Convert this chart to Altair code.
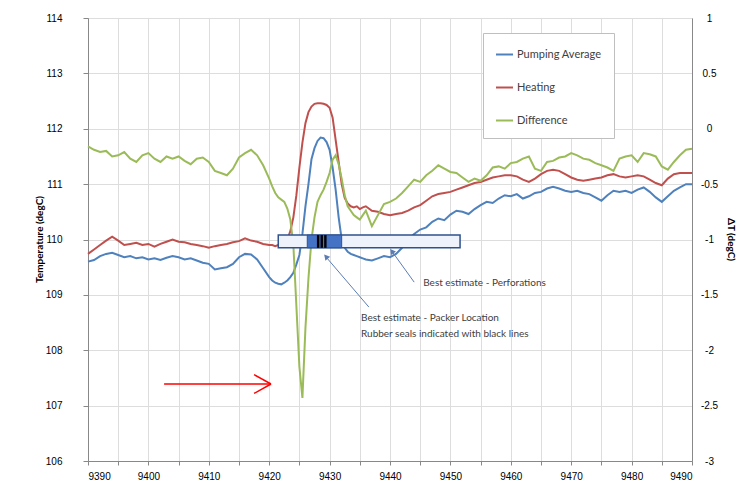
import altair as alt
import pandas as pd

# ---------------- data ----------------
depth = [9390, 9391, 9392, 9393, 9394, 9395, 9396, 9397, 9398, 9399,
         9400, 9401, 9402, 9403, 9404, 9405, 9406, 9407, 9408, 9409,
         9410, 9411, 9412, 9413, 9414, 9415, 9416, 9417, 9418, 9419,
         9420, 9420.5, 9421, 9421.5, 9422, 9422.5, 9423, 9423.5, 9424, 9424.5,
         9425, 9425.5, 9426, 9426.5, 9427, 9427.5, 9428, 9428.5, 9429, 9429.5,
         9430, 9430.5, 9431, 9431.5, 9432, 9432.5, 9433, 9433.5, 9434, 9434.5,
         9435, 9435.5, 9436, 9437, 9438, 9439, 9440, 9441, 9442, 9443,
         9444, 9445, 9446, 9447, 9448, 9449, 9450, 9451, 9452, 9453,
         9454, 9455, 9456, 9457, 9458, 9459, 9460, 9461, 9462, 9463,
         9464, 9465, 9466, 9467, 9468, 9469, 9470, 9471, 9472, 9473,
         9474, 9475, 9476, 9477, 9478, 9479, 9480, 9481, 9482, 9483,
         9484, 9485, 9486, 9487, 9488, 9489, 9490]

pumping_average = [109.60, 109.63, 109.70, 109.74, 109.76, 109.72, 109.68, 109.70, 109.66, 109.68,
                   109.64, 109.66, 109.63, 109.67, 109.70, 109.68, 109.64, 109.66, 109.62, 109.58,
                   109.56, 109.46, 109.48, 109.50, 109.56, 109.68, 109.74, 109.73, 109.64, 109.48,
                   109.32, 109.26, 109.22, 109.20, 109.19, 109.22, 109.26, 109.32, 109.40, 109.55,
                   109.72, 110.10, 110.60, 111.00, 111.45, 111.65, 111.78, 111.84, 111.83, 111.76,
                   111.62, 111.30, 110.90, 110.40, 110.00, 109.85, 109.78, 109.74, 109.72, 109.70,
                   109.68, 109.66, 109.64, 109.62, 109.66, 109.70, 109.68, 109.74, 109.85, 110.00,
                   110.10, 110.18, 110.22, 110.32, 110.38, 110.35, 110.45, 110.52, 110.50, 110.46,
                   110.55, 110.62, 110.68, 110.66, 110.74, 110.80, 110.78, 110.82, 110.74, 110.78,
                   110.84, 110.86, 110.92, 110.95, 110.92, 110.88, 110.86, 110.88, 110.84, 110.82,
                   110.76, 110.70, 110.80, 110.88, 110.86, 110.88, 110.84, 110.90, 110.94, 110.86,
                   110.76, 110.68, 110.78, 110.88, 110.94, 111.00, 111.00]

heating = [109.74, 109.82, 109.90, 109.98, 110.05, 109.98, 109.90, 109.92, 109.94, 109.90,
           109.92, 109.87, 109.92, 109.96, 110.00, 109.96, 109.95, 109.92, 109.90, 109.88,
           109.85, 109.88, 109.90, 109.92, 109.95, 109.97, 110.02, 109.98, 109.96, 109.92,
           109.90, 109.90, 109.88, 109.90, 109.92, 109.95, 110.00, 110.15, 110.40, 110.80,
           111.30, 111.75, 112.10, 112.30, 112.40, 112.45, 112.46, 112.46, 112.45, 112.43,
           112.38, 112.20, 111.80, 111.40, 111.00, 110.75, 110.65, 110.60, 110.58, 110.60,
           110.55, 110.58, 110.60, 110.52, 110.50, 110.46, 110.44, 110.46, 110.48, 110.52,
           110.58, 110.62, 110.70, 110.78, 110.82, 110.84, 110.86, 110.90, 110.94, 110.98,
           111.02, 111.04, 111.08, 111.12, 111.14, 111.16, 111.16, 111.14, 111.08, 111.04,
           111.10, 111.18, 111.24, 111.26, 111.24, 111.18, 111.12, 111.08, 111.06, 111.08,
           111.10, 111.12, 111.16, 111.18, 111.14, 111.12, 111.14, 111.16, 111.14, 111.08,
           111.02, 110.98, 111.10, 111.18, 111.20, 111.20, 111.20]

difference = [-0.16, -0.19, -0.21, -0.20, -0.25, -0.24, -0.21, -0.27, -0.30, -0.24,
              -0.22, -0.27, -0.30, -0.25, -0.27, -0.25, -0.29, -0.32, -0.27, -0.26,
              -0.30, -0.38, -0.40, -0.42, -0.36, -0.26, -0.22, -0.19, -0.24, -0.33,
              -0.45, -0.52, -0.58, -0.62, -0.64, -0.66, -0.72, -0.82, -1.05, -1.60,
              -2.15, -2.43, -1.80, -1.35, -1.00, -0.80, -0.66, -0.60, -0.55, -0.48,
              -0.40, -0.28, -0.24, -0.32, -0.45, -0.60, -0.70, -0.74, -0.78, -0.80,
              -0.82, -0.78, -0.74, -0.88, -0.78, -0.68, -0.66, -0.63, -0.58, -0.52,
              -0.46, -0.48, -0.42, -0.38, -0.33, -0.36, -0.39, -0.40, -0.44, -0.48,
              -0.45, -0.47, -0.42, -0.35, -0.34, -0.36, -0.31, -0.30, -0.27, -0.25,
              -0.36, -0.38, -0.30, -0.29, -0.26, -0.25, -0.22, -0.24, -0.27, -0.28,
              -0.31, -0.33, -0.35, -0.38, -0.27, -0.25, -0.24, -0.30, -0.22, -0.23,
              -0.25, -0.34, -0.37, -0.30, -0.24, -0.19, -0.18]

series_names = ["Pumping Average", "Heating", "Difference"]
series_colors = ["#4f81bd", "#c0504d", "#9bbb59"]

x_ticks = list(range(9390, 9491, 5))
left_ticks = [106, 107, 108, 109, 110, 111, 112, 113, 114]
right_ticks = [-3, -2.5, -2, -1.5, -1, -0.5, 0, 0.5, 1]

# annotation geometry (data units)
tool_box = {"x": [9421.5], "x2": [9451.6], "y": [109.85], "y2": [110.08]}
perf_zone = {"x": [9426.3], "x2": [9432.0], "y": [109.85], "y2": [110.08]}
seals = {"x": [9427.9, 9428.5, 9429.1], "x2": [9428.3, 9428.9, 9429.5],
         "y": [109.85, 109.85, 109.85], "y2": [110.08, 110.08, 110.08]}
pointer_lines = {"x": [9444.0, 9436.5], "y": [109.23, 108.78],
                 "x2": [9440.5, 9429.6], "y2": [109.76, 109.66]}
pointer_heads = {"x": [9440.3, 9429.4], "y": [109.79, 109.69], "angle": [324, 319]}
notes = {"x": [9445.5, 9435.2, 9435.2], "y": [109.21, 108.58, 108.30],
         "text": ["Best estimate - Perforations",
                  "Best estimate - Packer Location",
                  "Rubber seals indicated with black lines"]}
red_arrow = {"x": [9402.6, 9417.5, 9417.5], "y": [107.39, 107.56, 107.22],
             "x2": [9420.3, 9420.3, 9420.3], "y2": [107.39, 107.39, 107.39]}

# ---------------- build tables ----------------
left_df = pd.concat([
    pd.DataFrame({"depth": depth, "value": pumping_average, "series": series_names[0]}),
    pd.DataFrame({"depth": depth, "value": heating, "series": series_names[1]}),
])
right_df = pd.DataFrame({"depth": depth, "value": difference, "series": series_names[2]})

FONT = "Lato"
xscale = alt.Scale(domain=[9390, 9490], nice=False, zero=False)
lscale = alt.Scale(domain=[106, 114], nice=False, zero=False)
rscale = alt.Scale(domain=[-3, 1], nice=False, zero=False)
cscale = alt.Scale(domain=series_names, range=series_colors)

x_axis = alt.Axis(
    values=x_ticks, title=None, grid=True, tickSize=4, labelPadding=6,
    labelExpr="datum.value % 10 == 0 ? toString(datum.value) : ''")

legend = alt.Legend(title=None, orient="none", legendX=395, legendY=15,
                    symbolType="stroke", symbolSize=289, symbolStrokeWidth=2,
                    labelFont=FONT, labelFontSize=11, labelColor="#404040",
                    padding=12, rowPadding=18, labelOffset=3,
                    strokeColor="#bfbfbf", fillColor="white")

left_lines = alt.Chart(left_df).mark_line(strokeWidth=2).encode(
    x=alt.X("depth:Q", scale=xscale, axis=x_axis),
    y=alt.Y("value:Q", scale=lscale, axis=alt.Axis(
        values=left_ticks, orient="left", title="Temperature (degC)",
        titleFontWeight="bold", titleFontSize=10, titleColor="#000000", titleFont=FONT,
        titleX=-49, titleY=221, titleAngle=270, titleAlign="center", titleBaseline="middle",
        tickSize=5, labelPadding=21, grid=True)),
    color=alt.Color("series:N", scale=cscale, legend=legend),
)

right_line = alt.Chart(right_df).mark_line(strokeWidth=2).encode(
    x=alt.X("depth:Q", scale=xscale, axis=x_axis),
    y=alt.Y("value:Q", scale=rscale, axis=alt.Axis(
        values=right_ticks, orient="right", title="ΔT (degC)",
        titleFontWeight="bold", titleFontSize=10, titleColor="#000000", titleFont=FONT,
        titleX=38, titleY=221, titleAngle=90, titleAlign="center", titleBaseline="middle",
        labelExpr="toString(datum.value)", labelAlign="center",
        ticks=False, labelPadding=17, grid=False)),
    color=alt.Color("series:N", scale=cscale, legend=legend),
)

ya = alt.Y("y:Q", scale=lscale, axis=None)
xa = alt.X("x:Q", scale=xscale, axis=x_axis)

box = alt.Chart(pd.DataFrame(tool_box)).mark_rect(
    fill="#eef3fb", stroke="#2f528f", strokeWidth=1.5).encode(x=xa, x2="x2:Q", y=ya, y2="y2:Q")
perf = alt.Chart(pd.DataFrame(perf_zone)).mark_rect(
    fill="#4472c4", stroke="#2f528f", strokeWidth=1).encode(x=xa, x2="x2:Q", y=ya, y2="y2:Q")
seal = alt.Chart(pd.DataFrame(seals)).mark_rect(fill="#000000").encode(
    x=xa, x2="x2:Q", y=ya, y2="y2:Q")
plines = alt.Chart(pd.DataFrame(pointer_lines)).mark_rule(
    color="#5b7db5", strokeWidth=1).encode(x=xa, x2="x2:Q", y=ya, y2="y2:Q")
pheads = alt.Chart(pd.DataFrame(pointer_heads)).mark_point(
    shape="triangle-up", filled=True, color="#5b7db5", size=40, opacity=1).encode(
    x=xa, y=ya, angle=alt.Angle("angle:Q", scale=None))
ntext = alt.Chart(pd.DataFrame(notes)).mark_text(
    align="left", baseline="middle", font=FONT, fontSize=10, color="#404040").encode(
    x=xa, y=ya, text="text:N")
rarrow = alt.Chart(pd.DataFrame(red_arrow)).mark_rule(
    color="#ff0000", strokeWidth=1.5).encode(x=xa, x2="x2:Q", y=ya, y2="y2:Q")

annotations = alt.layer(box, perf, seal, plines, pheads, ntext, rarrow)

chart = alt.layer(left_lines, right_line, annotations).resolve_scale(
    y="independent"
).properties(
    width=604, height=443,
    padding={"left": 80, "top": 10, "right": 45, "bottom": 20},
    autosize=alt.AutoSizeParams(type="none"),
).configure_view(stroke=None).configure_axis(
    gridColor="#d9d9d9", tickColor="#d9d9d9", domain=False,
    labelColor="#595959", labelFont=FONT, labelFontSize=11,
).configure(background="white")

chart.save("out.html", embed_options={"renderer": "svg", "actions": False})
